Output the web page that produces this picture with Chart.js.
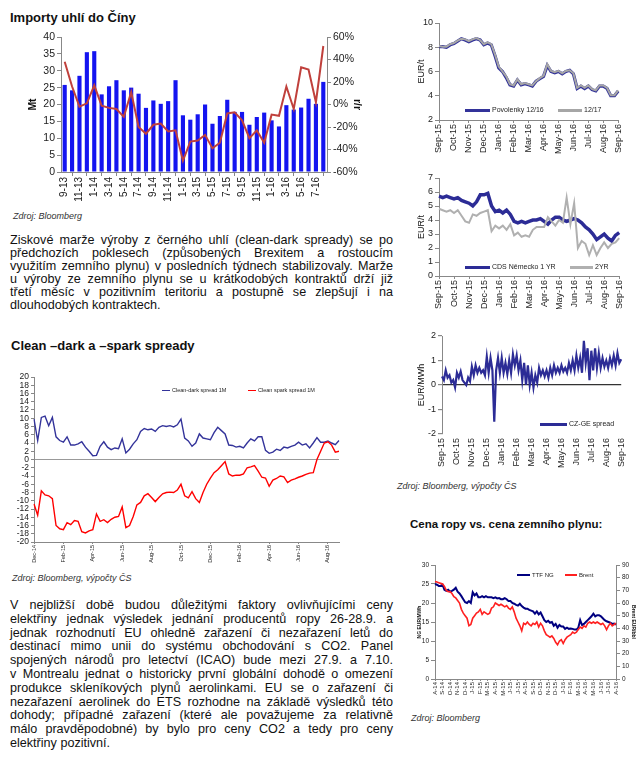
<!DOCTYPE html>
<html lang="cs">
<head>
<meta charset="utf-8">
<title>Uhlí, povolenky a spready</title>
<script src="https://cdn.jsdelivr.net/npm/chart.js@4.4.1/dist/chart.umd.min.js"></script>
<style>
  body { margin: 0; background: #fff; font-family: "Liberation Sans", Arial, sans-serif; color: #111; }
  #page { position: relative; width: 640px; height: 766px; overflow: hidden; }
  .box { position: absolute; }
  .head { position: absolute; font-weight: bold; font-size: 13px; line-height: 15px; white-space: nowrap; }
  .src { position: absolute; font-style: italic; font-size: 9px; line-height: 10px; color: #333; white-space: nowrap; }
  .para { position: absolute; left: 10px; width: 383px; font-size: 12.6px; }
  .para div { text-align: justify; text-align-last: justify; white-space: nowrap; }
  .para div.last { text-align-last: left; }
  .leg { position: absolute; font-size: 7px; line-height: 8px; white-space: nowrap; color: #222; }
  .leg i { display: inline-block; vertical-align: middle; margin-right: 2px; }
</style>
</head>
<body>
<div id="page">
  <div class="head" style="left:10px;top:10px">Importy uhlí do Číny</div>
  <div class="box" style="left:14px;top:28px;width:352px;height:180px"><canvas id="coal"></canvas></div>
  <div class="src" style="left:13px;top:211px">Zdroj: Bloomberg</div>

  <div class="para" style="top:234px;line-height:13px">
    <div>Ziskové marže výroby z černého uhlí (clean-dark spready) se po</div>
    <div>předchozích poklesech (způsobených Brexitem a rostoucím</div>
    <div>využitím zemního plynu) v posledních týdnech stabilizovaly. Marže</div>
    <div>u výroby ze zemního plynu se u krátkodobých kontraktů drží již</div>
    <div>třetí měsíc v pozitivním teritoriu a postupně se zlepšují i na</div>
    <div class="last">dlouhodobých kontraktech.</div>
  </div>

  <div class="head" style="left:11px;top:338px">Clean –dark a –spark spready</div>
  <div class="box" style="left:6px;top:368px;width:340px;height:200px"><canvas id="spread"></canvas></div>
  <div class="leg" style="left:162px;top:386px;font-size:5.5px"><i style="width:8px;height:1.5px;background:#33339a"></i>Clean-dark spread 1M</div>
  <div class="leg" style="left:248px;top:386px;font-size:5.5px"><i style="width:8px;height:1.5px;background:#ff0000"></i>Clean spark spread 1M</div>
  <div class="src" style="left:12px;top:573px">Zdroj: Bloomberg, výpočty ČS</div>

  <div class="para" style="top:599px;line-height:13.8px">
    <div>V nejbližší době budou důležitými faktory ovlivňujícími ceny</div>
    <div>elektřiny jednak výsledek jednání producentů ropy 26-28.9. a</div>
    <div>jednak rozhodnutí EU ohledně zařazení či nezařazení letů do</div>
    <div>destinací mimo unii do systému obchodování s CO2. Panel</div>
    <div>spojených národů pro letectví (ICAO) bude mezi 27.9. a 7.10.</div>
    <div>v Montrealu jednat o historicky první globální dohodě o omezení</div>
    <div>produkce skleníkových plynů aerolinkami. EU se o zařazení či</div>
    <div>nezařazení aerolinek do ETS rozhodne na základě výsledků této</div>
    <div>dohody; případné zařazení (které ale považujeme za relativně</div>
    <div>málo pravděpodobné) by bylo pro ceny CO2 a tedy pro ceny</div>
    <div class="last">elektřiny pozitivní.</div>
  </div>

  <div class="box" style="left:405px;top:14px;width:225px;height:145px"><canvas id="eua"></canvas></div>
  <div class="leg" style="left:465px;top:106px"><i style="width:25px;height:3px;background:#33339a"></i>Povolenky 12/16</div>
  <div class="leg" style="left:558px;top:106px"><i style="width:24px;height:3px;background:#a6a6a6"></i>12/17</div>

  <div class="box" style="left:405px;top:169px;width:226px;height:140px"><canvas id="cds"></canvas></div>
  <div class="leg" style="left:465px;top:263px"><i style="width:25px;height:3px;background:#2c2c96"></i>CDS Německo 1 YR</div>
  <div class="leg" style="left:570px;top:263px"><i style="width:23px;height:3px;background:#b0b0b0"></i>2YR</div>

  <div class="box" style="left:405px;top:327px;width:228px;height:145px"><canvas id="czge"></canvas></div>
  <div class="leg" style="left:540px;top:420px"><i style="width:27px;height:3px;background:#2c2c96"></i>CZ-GE spread</div>
  <div class="src" style="left:397px;top:481px">Zdroj: Bloomberg, výpočty ČS</div>

  <div class="head" style="left:410px;top:517px;font-size:11.5px">Cena ropy vs. cena zemního plynu:</div>
  <div class="box" style="left:408px;top:556px;width:232px;height:150px"><canvas id="oil"></canvas></div>
  <div class="leg" style="left:517px;top:571px;font-size:6px"><i style="width:13px;height:2px;background:#000080"></i>TTF NG</div>
  <div class="leg" style="left:565px;top:571px;font-size:6px"><i style="width:12px;height:2px;background:#ff2020"></i>Brent</div>
  <div class="src" style="left:411px;top:713px">Zdroj: Bloomberg</div>
</div>

<script>
// importy uhlí (měsíčně)
const coalMonths = ['9-13','10-13','11-13','12-13','1-14','2-14','3-14','4-14','5-14','6-14','7-14','8-14',
  '9-14','10-14','11-14','12-14','1-15','2-15','3-15','4-15','5-15','6-15','7-15','8-15',
  '9-15','10-15','11-15','12-15','1-16','2-16','3-16','4-16','5-16','6-16','7-16','8-16'];
const coalImports = [25.8,24.2,28.5,35.5,35.8,23,25.4,27.2,24.2,25,23.2,19,
  21.2,20.2,21,27.2,16.8,15.5,17.1,20,14.3,16.6,21.4,17.8,
  17.8,14,16.3,17.6,15.3,13.5,19.8,18.5,19.1,21.7,20.2,26.7];
const coalYoY = [38,16,-2,1,17,-1,-3,-4,-11,11,-20,-26,
  -18,-17,-24,-23,-50,-33,-32,-27,-39,-34,-8,-7,
  -14,-30,-23,-34,-9,-10,16,-4,33,31,2,52];

// spready (týdně, prosinec 2014 - srpen 2016)
const spreadMonths = ['Dec-14','Jan-15','Feb-15','Mar-15','Apr-15','May-15','Jun-15','Jul-15','Aug-15','Sep-15','Oct-15',
  'Nov-15','Dec-15','Jan-16','Feb-16','Mar-16','Apr-16','May-16','Jun-16','Jul-16','Aug-16'];
const cleanDark = [9.8,4.6,10.2,10.5, 8.2,10.2,5.5,4.6, 4.2,5.5,3.5,3.5, 3.8,4.3,3.0,2.0, 0.9,1.0,3.2,4.3,
  3.0,2.4,2.8,2.6, 5.0,1.6,2.5,3.8, 4.8,6.8,7.5,7.2, 7.4,6.8,7.8,8.2, 8.0,8.2,7.9,8.4, 9.8,5.2,4.5,3.2,
  4.0,6.2,5.2,5.0, 4.8,6.5,7.8,7.0, 6.2,3.5,3.4,3.0, 3.2,2.8,4.0,5.0, 4.5,5.5,5.5,2.2, 1.5,1.8,2.5,2.2,
  3.0,2.8,3.2,3.5, 4.2,3.5,3.8,2.8, 4.0,5.3,4.2,4.2, 4.5,4.0,3.6,4.6];
const cleanSpark = [-10.8,-13.5,-7.6,-8.6, -8.8,-9.5,-16,-16.8, -17,-15.3,-15.8,-14.8, -15,-17.5,-17.8,-17.3,
  -17,-13.2,-15,-14.6, -15.3,-14.5,-14,-13.8, -11.5,-16.5,-16,-13.8, -11,-10.4,-8.8,-8.3, -9.2,-10.2,-9.2,-8.3,
  -8,-7.9,-8,-7.4, -6,-8.8,-9.3,-7.8, -9.5,-10.4,-8,-6, -4.5,-3.2,-2.5,-1.5, -0.5,-3.5,-4,-3.8,
  -3.8,-3.5,-2,-1.8, -1.5,-2.8,-4.3,-4.5, -6.5,-5,-4.6,-4, -4.2,-5.6,-5,-4.7, -4.3,-4,-3.6,-3.3,
  -3.2,0,2,4, 4.3,3.5,1.8,2.0];

// povolenky, CDS, CZ-GE (září 2015 - září 2016)
const yearMonths = ['Sep-15','Oct-15','Nov-15','Dec-15','Jan-16','Feb-16','Mar-16','Apr-16','May-16','Jun-16','Jul-16','Aug-16','Sep-16'];
const eua1216 = [8.05,8.05,8.0,8.2, 8.3,8.5,8.7,8.6, 8.45,8.6,8.7,8.6, 8.2,8.35,8.2,7.3, 6.3,6.0,5.5,4.9,
  4.8,5.3,4.9,5.0, 4.9,4.8,5.2,5.4, 5.6,6.5,6.0,5.9, 6.0,5.8,6.0,6.1, 5.8,4.6,4.8,4.6, 4.8,4.5,4.4,4.8,
  4.8,4.6,4.0,4.0, 4.4];
const eua1217 = [8.1,8.05,8.05,8.25, 8.35,8.55,8.7,8.65, 8.5,8.65,8.75,8.6, 8.25,8.4,8.25,7.4, 6.4,6.0,5.6,4.95,
  4.85,5.35,4.95,5.05, 4.95,4.85,5.2,5.45, 5.65,6.6,6.05,5.95, 6.05,5.85,6.05,6.1, 5.85,4.65,4.85,4.65, 4.85,4.55,4.45,4.85,
  4.85,4.65,4.05,4.05, 4.45];
const cds1y = [5.7,5.6,5.7,5.6, 5.5,5.6,5.4,5.3, 5.2,5.0,5.3,5.8, 5.8,5.9,5.0,4.6, 4.7,4.5,4.7,4.4,
  3.9,3.8,3.9,3.8, 3.9,4.0,4.0,4.1, 3.9,3.7,4.0,4.2, 4.2,4.0,3.9,4.0, 4.1,4.0,3.8,3.5, 3.3,3.0,2.6,2.8,
  3.0,2.7,2.5,2.9, 3.1];
const cds2y = [4.8,4.7,4.6,4.7, 4.5,4.7,4.3,3.9, 3.8,4.4,4.3,4.5, 4.6,4.7,3.2,3.6, 3.4,3.6,3.3,3.7,
  2.9,3.1,2.8,2.9, 2.8,3.3,3.5,3.5, 3.5,4.2,3.9,3.6, 4.0,3.8,5.6,3.7, 5.2,2.0,2.5,2.3, 1.5,2.2,1.5,2.0,
  2.4,2.0,2.3,2.4, 2.7];
const czgeSpread = [0.35,0.2,0.6,0.3,0.4,0.1,0.2,-0.1, 0.5,0.3,0.55,0.2,0.1,0.0,0.3,0.15,
  0.75,0.4,0.8,0.5,0.7,0.5,0.6,0.4, 1.15,0.5,1.1,0.6,-1.5,0.6,1.1,0.5,
  1.1,0.5,0.9,0.45,1.0,0.5,1.25,0.8, 1.2,0.6,1.0,0.2,0.9,0.0,0.8,0.0,
  0.5,-0.1,0.4,0.1,0.7,0.4,0.6,0.35, 0.6,0.3,0.7,0.4,0.8,0.5,0.7,0.5,
  0.8,0.55,0.7,0.5,0.9,0.6,1.0,0.6, 1.2,0.7,1.1,0.5,1.8,0.9,1.5,0.2,
  1.4,0.6,1.5,0.7,1.3,0.7,1.1,0.75, 1.0,0.7,1.1,0.8,1.2,0.8,1.3,0.9, 1.05];

// ropa vs. plyn (týdně, srpen 2014 - srpen 2016)
const gasMonths = ['A-14','S-14','O-14','N-14','D-14','J-15','F-15','M-15','A-15','M-15','J-15','J-15','A-15',
  'S-15','O-15','N-15','D-15','J-16','F-16','M-16','A-16','M-16','J-16','J-16','A-16'];
const ttfNg = [25.0,24.8,24.5,24.5, 24.8,23.5,23.2,23.5, 23.0,23.2,23.5,24.0, 23.0,22.5,21.8,21.0,
  20.2,20.0,20.5,20.0, 22.8,22.0,22.5,21.5, 21.5,21.8,21.5,21.8, 21.5,21.5,21.5,21.3,
  21.5,21.2,21.3,21.0, 21.0,21.3,21.0,20.5, 20.5,20.0,19.8,19.5, 19.3,19.8,19.2,18.8,
  18.5,18.5,18.2,18.0, 17.8,17.2,17.8,17.0, 17.5,16.5,15.5,15.0, 15.3,14.8,15.0,14.0,
  14.5,13.5,14.2,13.8, 13.8,13.2,13.5,13.2, 13.3,13.2,13.0,13.0, 13.5,15.5,14.2,14.5,
  15.0,15.5,16.0,16.5, 17.2,16.5,16.8,16.8, 16.5,16.0,15.5,15.2, 15.0,14.8,14.5,14.6, 14.3];
const brent = [77,76.5,76,75.5, 75,73,70,69, 69,67.5,65,64, 62,60,55,52, 50,48,42,43, 48,50,52,53,
  55,51,53,52, 51,52,56,57, 60,59,58,59, 58,57,58,56, 55,57,53,48, 45,42,38,44, 43,45,43,42,
  44,43,45,41, 44,42,38,35, 34,33,34,32, 29,27,30,31, 28,31,33,34, 35,37,36,37, 39,41,40,42,
  41,44,45,44, 45,44,45,44, 43,44,42,39, 42,44,42,43, 44];

const FONT = '"Liberation Sans", Arial, sans-serif';
Chart.defaults.font.family = FONT;
Chart.defaults.color = '#222';
Chart.defaults.animation = false;
Chart.defaults.maintainAspectRatio = false;
Chart.defaults.plugins.legend.display = false;
Chart.defaults.plugins.tooltip.enabled = false;
Chart.defaults.elements.point.radius = 0;
Chart.defaults.elements.line.tension = 0;

// popisky pro týdenní body: název měsíce a pak prázdné
function buildLabels(months, perMonth, count) {
  let out = [];
  for (let m of months) {
    out.push(m);
    for (let k = 1; k < perMonth; k++) out.push('');
  }
  return out.slice(0, count);
}

function everyNth(labels, n) {
  return function(value, index) {
    return index % n === 0 ? labels[index] : null;
  };
}

function yAxis(o) {
  let ax = {
    position: o.position || 'left',
    min: o.min, max: o.max,
    afterFit: function(s) { s.width = o.width; },
    border: { color: '#888' },
    grid: { drawOnChartArea: false, tickLength: 4, color: '#888' },
    ticks: { stepSize: o.step, font: { size: o.size }, padding: 2, maxTicksLimit: 50, autoSkip: false },
    title: { display: false }
  };
  if (o.cb) ax.ticks.callback = o.cb;
  if (o.title) {
    ax.title = { display: true, text: o.title, color: '#111',
      font: { size: o.tsize, weight: o.tbold ? 'bold' : 'normal' }, padding: { top: o.tpad, bottom: 0 } };
  }
  return ax;
}

function xAxis(o) {
  return {
    afterFit: function(s) { s.height = o.height; },
    border: { color: '#888', display: o.border !== false },
    grid: { display: o.grid !== false, drawOnChartArea: false, tickLength: o.tick || 3, color: '#888' },
    ticks: { autoSkip: false, maxRotation: 90, minRotation: 90, font: { size: o.size }, padding: o.pad || 1,
      callback: everyNth(o.labels, o.n) }
  };
}

function lineSet(data, color, width, order, axis) {
  return { type: 'line', data: data, borderColor: color, borderWidth: width, fill: false, order: order, yAxisID: axis || 'y' };
}

document.addEventListener('DOMContentLoaded', function() {

  new Chart(document.getElementById('coal'), {
    type: 'bar',
    data: {
      labels: coalMonths,
      datasets: [
        lineSet(coalYoY, '#c0403c', 2, 0, 'y1'),
        { type: 'bar', data: coalImports, backgroundColor: '#1414f0', barPercentage: 0.56, categoryPercentage: 1, order: 1, yAxisID: 'y' }
      ]
    },
    options: {
      layout: { padding: { top: 9, left: 0, right: 0, bottom: 0 } },
      scales: {
        x: xAxis({ height: 36, size: 10, labels: coalMonths, n: 2, tick: 4, pad: 1 }),
        y: yAxis({ min: 0, max: 40, step: 5, width: 47, size: 10.5, title: 'Mt', tsize: 10.5, tbold: true, tpad: 13 }),
        y1: yAxis({ position: 'right', min: -60, max: 60, step: 20, width: 39, size: 10.5, cb: function(v) { return v + '%'; },
          title: 'r/r', tsize: 10.5, tbold: true, tpad: 3 })
      }
    }
  });

  const spreadLabels = buildLabels(spreadMonths, 4, cleanDark.length);
  let spreadY = yAxis({ min: -20, max: 20, step: 2, width: 28, size: 8.5 });
  spreadY.grid = { drawOnChartArea: true, tickLength: 3, tickColor: '#888',
    color: function(c) { return c.tick && c.tick.value === 0 ? '#999' : 'rgba(0,0,0,0)'; } };
  new Chart(document.getElementById('spread'), {
    type: 'line',
    data: {
      labels: spreadLabels,
      datasets: [
        lineSet(cleanSpark, '#ff0000', 1.4, 0),
        lineSet(cleanDark, '#33339a', 1.4, 1)
      ]
    },
    options: {
      layout: { padding: { top: 9, left: 0, right: 7, bottom: 0 } },
      scales: {
        x: xAxis({ height: 26, size: 5.5, labels: spreadLabels, n: 8, tick: 2, pad: 1 }),
        y: spreadY
      }
    }
  });

  const euaLabels = buildLabels(yearMonths, 4, eua1216.length);
  new Chart(document.getElementById('eua'), {
    type: 'line',
    data: {
      labels: euaLabels,
      datasets: [
        lineSet(eua1217, '#a6a6a6', 2, 0),
        lineSet(eua1216, '#33339a', 3.2, 1)
      ]
    },
    options: {
      layout: { padding: { top: 9, left: 0, right: 7, bottom: 0 } },
      scales: {
        x: xAxis({ height: 39, size: 9, labels: euaLabels, n: 4, tick: 3, pad: 0 }),
        y: yAxis({ min: 2, max: 10, step: 2, width: 34, size: 9, title: 'EUR/t', tsize: 9, tpad: 11 })
      }
    }
  });

  const cdsLabels = buildLabels(yearMonths, 4, cds1y.length);
  new Chart(document.getElementById('cds'), {
    type: 'line',
    data: {
      labels: cdsLabels,
      datasets: [
        lineSet(cds2y, '#b0b0b0', 2, 0),
        lineSet(cds1y, '#2c2c96', 3.5, 1)
      ]
    },
    options: {
      layout: { padding: { top: 9, left: 0, right: 7, bottom: 0 } },
      scales: {
        x: xAxis({ height: 33, size: 9, labels: cdsLabels, n: 4, tick: 3, pad: 0 }),
        y: yAxis({ min: 0, max: 7, step: 1, width: 34, size: 9, title: 'EUR/t', tsize: 9, tpad: 11 })
      }
    }
  });

  const czLabels = buildLabels(yearMonths, 8, czgeSpread.length);
  let czY = yAxis({ min: -2, max: 2, step: 1, width: 37, size: 9, title: 'EUR/MWh', tsize: 9, tpad: 11 });
  czY.grid = { drawOnChartArea: true, tickLength: 4, tickColor: '#888', lineWidth: 1.2,
    color: function(c) { return c.tick && c.tick.value === 0 ? '#333' : 'rgba(0,0,0,0)'; } };
  new Chart(document.getElementById('czge'), {
    type: 'line',
    data: {
      labels: czLabels,
      datasets: [ lineSet(czgeSpread, '#2c2c96', 2.2, 0) ]
    },
    options: {
      layout: { padding: { top: 9, left: 0, right: 7, bottom: 0 } },
      scales: {
        x: xAxis({ height: 38, size: 9, labels: czLabels, n: 8, tick: 3, pad: 1, border: false, grid: false }),
        y: czY
      }
    }
  });

  const gasLabels = buildLabels(gasMonths, 4, ttfNg.length);
  new Chart(document.getElementById('oil'), {
    type: 'line',
    data: {
      labels: gasLabels,
      datasets: [
        lineSet(brent, '#ff2020', 1.6, 0, 'y1'),
        lineSet(ttfNg, '#000080', 2, 1, 'y')
      ]
    },
    options: {
      layout: { padding: { top: 9, left: 0, right: 0, bottom: 0 } },
      scales: {
        x: xAxis({ height: 27, size: 6, labels: gasLabels, n: 4, tick: 2, pad: 1 }),
        y: yAxis({ min: 0, max: 30, step: 5, width: 27, size: 6.5, title: 'NG EUR/MWh', tsize: 5, tbold: true, tpad: 9 }),
        y1: yAxis({ position: 'right', min: 0, max: 90, step: 10, width: 24, size: 6.5, title: 'Brent EUR/bbl', tsize: 5, tbold: true, tpad: 4 })
      }
    }
  });
});
</script>
</body>
</html>
